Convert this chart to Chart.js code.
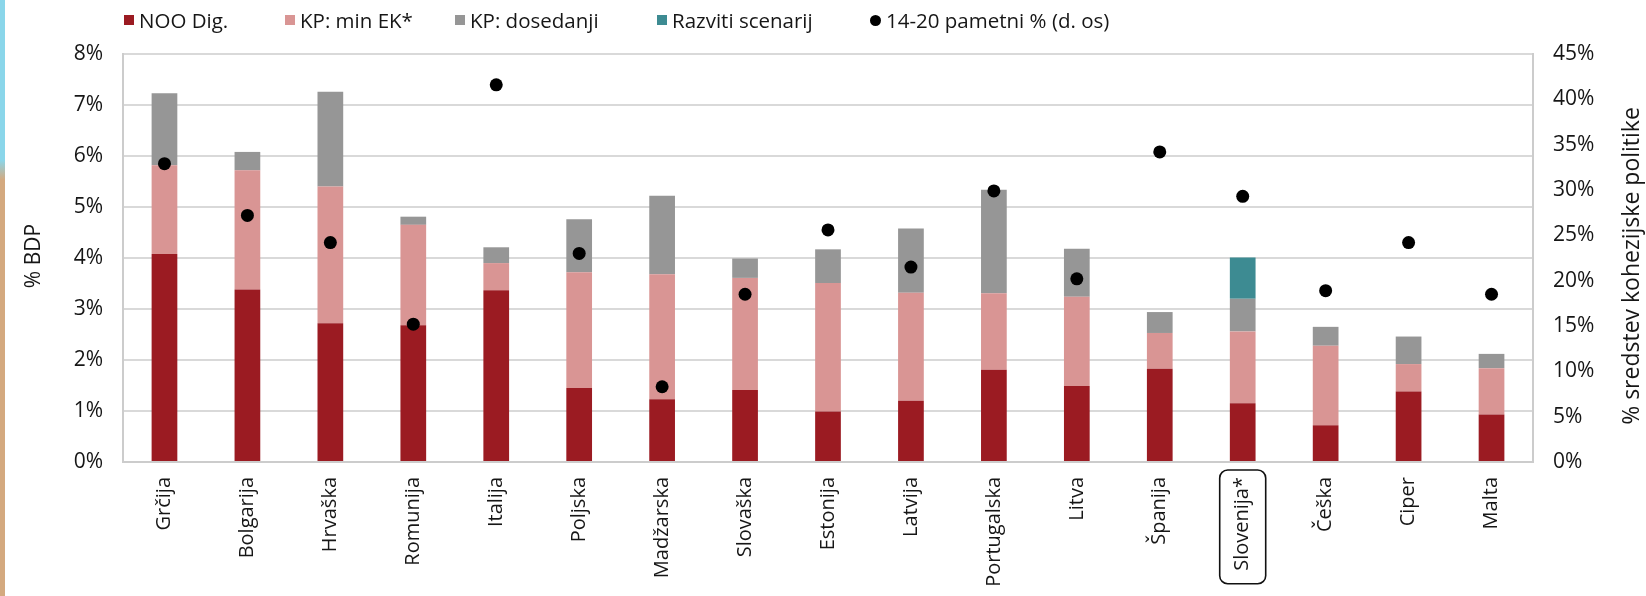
<!DOCTYPE html>
<html lang="sl">
<head>
<meta charset="utf-8">
<title>Sredstva za digitalizacijo</title>
<script src="https://cdn.jsdelivr.net/npm/chart.js@4.4.1/dist/chart.umd.min.js"></script>
<style>
  html, body { margin: 0; padding: 0; background: #fff; overflow: hidden; }
  #okvir { position: relative; width: 1646px; height: 596px; font-family: "Open Sans", sans-serif; color: #161616; }
  #trak { position: absolute; left: 0; top: 0; width: 5px; height: 596px; z-index: 2;
          background: linear-gradient(to bottom, #8ad6ea 0, #8ad6ea 160px, #d4a97f 180px, #d4a97f 100%); }
  .leg { position: absolute; top: 8px; height: 24px; display: flex; align-items: center; font-size: 20.5px; white-space: nowrap; }
  .leg i { display: inline-block; width: 10px; height: 10px; margin-right: 5px; }
  .leg i.pika { width: 11px; height: 11px; border-radius: 50%; background: #000; }
  canvas { position: absolute; left: 0; top: 0; }
</style>
</head>
<body>
<div id="okvir">
  <div id="trak"></div>
  <canvas id="graf" width="1646" height="596"></canvas>
  <div class="leg" style="left:124px"><i style="background:#9b1b22"></i>NOO Dig.</div>
  <div class="leg" style="left:285px"><i style="background:#d99594"></i>KP: min EK*</div>
  <div class="leg" style="left:455px"><i style="background:#969696"></i>KP: dosedanji</div>
  <div class="leg" style="left:657px"><i style="background:#3d8b92"></i>Razviti scenarij</div>
  <div class="leg" style="left:870px"><i class="pika"></i>14-20 pametni % (d. os)</div>
</div>
<script>
const paises = ["Grčija","Bolgarija","Hrvaška","Romunija","Italija","Poljska","Madžarska","Slovaška","Estonija","Latvija","Portugalska","Litva","Španija","Slovenija*","Češka","Ciper","Malta"];

// % BDP, leva os
const nooDig        = [4.08,3.38,2.72,2.68,3.37,1.45,1.23,1.41,0.99,1.20,1.81,1.49,1.83,1.15,0.72,1.38,0.93];
const kpMinEK       = [1.74,2.34,2.68,1.97,0.53,2.27,2.45,2.20,2.52,2.12,1.50,1.75,0.70,1.41,1.56,0.54,0.91];
const kpDosedanji   = [1.41,0.36,1.86,0.16,0.31,1.04,1.54,0.38,0.66,1.26,2.03,0.94,0.41,0.64,0.37,0.54,0.28];
const razvitiScen   = [null,null,null,null,null,null,null,null,null,null,null,null,null,0.81,null,null,null];

// % sredstev kohezijske politike, desna os
const pametni       = [32.9,27.2,24.2,15.2,41.6,23.0,8.3,18.5,25.6,21.5,29.9,20.2,34.2,29.3,18.9,24.2,18.5];

const levaMax = 8, levaKorak = 1;
const desnaMax = 45, desnaKorak = 5;

const pisavaOsi = { family: '"Open Sans", sans-serif', size: 21 };
const pisavaDrzav = { family: '"Open Sans", sans-serif', size: 20 };
const barvaTeksta = "#161616";
const barvaMreze = "#d9d9d9";

const dodatki = {
  id: "dodatki",
  afterDraw(chart) {
    const { ctx, scales } = chart;
    ctx.save();
    ctx.fillStyle = barvaTeksta;
    ctx.textAlign = "center";
    ctx.textBaseline = "middle";

    // naslova osi
    ctx.save();
    ctx.font = '21px "Open Sans", sans-serif';
    ctx.translate(34, 256);
    ctx.rotate(-Math.PI / 2);
    ctx.fillText("% BDP", 0, 0);
    ctx.restore();

    ctx.save();
    ctx.font = '23px "Open Sans", sans-serif';
    ctx.translate(1632, 266);
    ctx.rotate(-Math.PI / 2);
    ctx.fillText("% sredstev kohezijske politike", 0, 0);
    ctx.restore();

    // okvir okoli Slovenije
    ctx.font = '20px "Open Sans", sans-serif';
    const i = paises.indexOf("Slovenija*");
    const x = scales.x.getPixelForValue(i);
    const w = ctx.measureText("Slovenija*").width;
    const vrh = scales.x.top + 8;
    ctx.beginPath();
    ctx.roundRect(x - 23, vrh, 46, w + 20, 8);
    ctx.lineWidth = 1.6;
    ctx.strokeStyle = "#111";
    ctx.stroke();
    ctx.restore();
  }
};

new Chart(document.getElementById("graf"), {
  type: "bar",
  data: {
    labels: paises,
    datasets: [
      { label: "14-20 pametni % (d. os)", type: "line", data: pametni, yAxisID: "y1", showLine: false,
        pointRadius: 6.5, pointBackgroundColor: "#000", pointBorderWidth: 0, order: 0 },
      { label: "NOO Dig.", data: nooDig, backgroundColor: "#9b1b22", yAxisID: "y", order: 1 },
      { label: "KP: min EK*", data: kpMinEK, backgroundColor: "#d99594", yAxisID: "y", order: 1 },
      { label: "KP: dosedanji", data: kpDosedanji, backgroundColor: "#969696", yAxisID: "y", order: 1 },
      { label: "Razviti scenarij", data: razvitiScen, backgroundColor: "#3d8b92", yAxisID: "y", order: 1 }
    ]
  },
  options: {
    responsive: false,
    animation: false,
    layout: { padding: { top: 54, left: 0, right: 0, bottom: 0 } },
    datasets: { bar: { barPercentage: 0.31, categoryPercentage: 1, borderWidth: 0 } },
    plugins: { legend: { display: false }, tooltip: { enabled: false } },
    scales: {
      x: {
        stacked: true,
        grid: { display: false, drawTicks: false },
        border: { color: "#cccccc", width: 2 },
        ticks: { color: barvaTeksta, font: pisavaDrzav, minRotation: 90, maxRotation: 90, padding: 15, autoSkip: false },
        afterFit(s) { s.height = 134; }
      },
      y: {
        stacked: true, min: 0, max: levaMax,
        position: "left",
        grid: { color: barvaMreze, lineWidth: 2, drawTicks: false },
        border: { color: "#cccccc", width: 2 },
        ticks: { stepSize: levaKorak, color: barvaTeksta, font: pisavaOsi, padding: 20, callback: v => v + "%" },
        afterFit(s) { s.width = 123; }
      },
      y1: {
        min: 0, max: desnaMax,
        position: "right",
        grid: { display: false, drawTicks: false },
        border: { color: "#cccccc", width: 2 },
        ticks: { stepSize: desnaKorak, color: barvaTeksta, font: pisavaOsi, padding: 20, callback: v => v + "%" },
        afterFit(s) { s.width = 113; }
      }
    }
  },
  plugins: [dodatki]
});
</script>
</body>
</html>
